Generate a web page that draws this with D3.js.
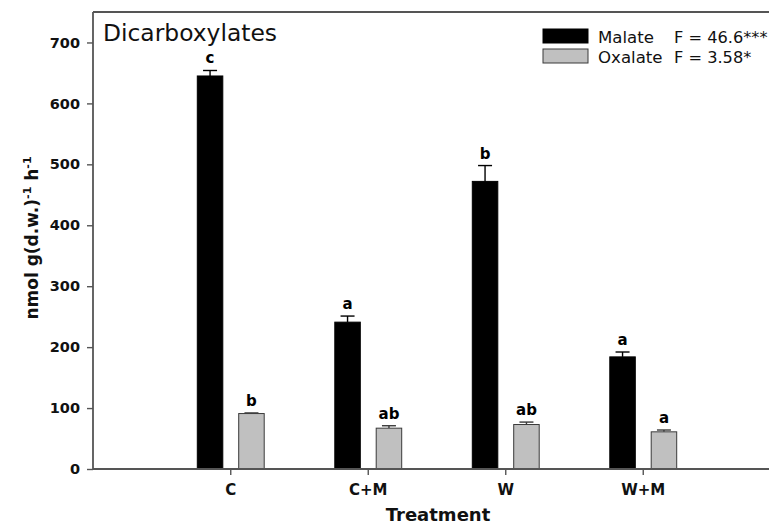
<!DOCTYPE html>
<html>
<head>
<meta charset="utf-8">
<script src="https://cdn.jsdelivr.net/npm/d3@7"></script>
<style>
    body { margin: 0; background: #fff; }
    text { font-family: "DejaVu Sans", sans-serif; }
</style>
</head>
<body>
<svg></svg>
<script>
//data
const treatments = ["C", "C+M", "W", "W+M"];
const malate = [645, 241, 472, 184];
const malateSE = [9, 10, 26, 8];
const malateLetters = ["c", "a", "b", "a"];
const oxalate = [91, 67, 73, 61];
const oxalateSE = [1, 4, 4, 3];
const oxalateLetters = ["b", "ab", "ab", "a"];
const fStats = ["F = 46.6***", "F = 3.58*"];
const yTicks = [0, 100, 200, 300, 400, 500, 600, 700];

//constants
const W = 769, H = 525;
const margin = {top: 12, left: 93};
const barOffset = 20.7;
const barWidth = 25.5;
const axisColor = "#555";

let svg = d3.select("svg")
    .attr("width", W)
    .attr("height", H);

//scales
var xScale = d3.scaleBand()
    .domain(treatments)
    .range([162, 712])
    .paddingInner(0);

var cx = d => xScale(d) + xScale.bandwidth() / 2;

var yScale = d3.scaleLinear()
    .domain([0, 750])
    .range([469, margin.top]);

//series table
let series = [
    {name: "Malate", values: malate, se: malateSE, letters: malateLetters, off: -barOffset, fill: "#000", stroke: "#000"},
    {name: "Oxalate", values: oxalate, se: oxalateSE, letters: oxalateLetters, off: barOffset, fill: "#c0c0c0", stroke: "#3a3a3a"}
];

//bars
series.forEach(function(s) {
    let g = svg.append("g").attr("class", "series");
    let rows = treatments.map((t, i) => ({t: t, v: s.values[i], se: s.se[i], l: s.letters[i]}));

    g.selectAll(".err")
        .data(rows)
        .enter()
        .append("line")
        .attr("x1", d => cx(d.t) + s.off)
        .attr("x2", d => cx(d.t) + s.off)
        .attr("y1", d => yScale(d.v))
        .attr("y2", d => yScale(d.v + d.se))
        .attr("stroke", s.stroke)
        .attr("stroke-width", 1.4);

    g.selectAll(".cap")
        .data(rows)
        .enter()
        .append("line")
        .attr("x1", d => cx(d.t) + s.off - 7)
        .attr("x2", d => cx(d.t) + s.off + 7)
        .attr("y1", d => yScale(d.v + d.se))
        .attr("y2", d => yScale(d.v + d.se))
        .attr("stroke", s.stroke)
        .attr("stroke-width", 1.4);

    g.selectAll(".bar")
        .data(rows)
        .enter()
        .append("rect")
        .attr("x", d => cx(d.t) + s.off - barWidth / 2)
        .attr("y", d => yScale(d.v))
        .attr("width", barWidth)
        .attr("height", d => yScale(0) - yScale(d.v))
        .attr("fill", s.fill)
        .attr("stroke", s.stroke)
        .attr("stroke-width", 1);

    g.selectAll(".letter")
        .data(rows)
        .enter()
        .append("text")
        .attr("x", d => cx(d.t) + s.off)
        .attr("y", d => yScale(d.v + d.se) - 7)
        .attr("text-anchor", "middle")
        .style("font-size", "15px")
        .style("font-weight", "bold")
        .text(d => d.l);
});

//axes
var gY = svg.append("g")
    .attr("transform", "translate(" + margin.left + ",0)")
    .call(d3.axisLeft(yScale)
        .tickValues(yTicks)
        .tickSize(6)
        .tickPadding(7)
        .tickSizeOuter(0));

var gX = svg.append("g")
    .attr("transform", "translate(0," + yScale(0) + ")")
    .call(d3.axisBottom(xScale)
        .tickSize(6)
        .tickPadding(9)
        .tickSizeOuter(0));

[gX, gY].forEach(function(g) {
    g.select(".domain").remove();
    g.selectAll("line").attr("stroke", axisColor).attr("stroke-width", 1.4);
    g.selectAll("text")
        .attr("fill", "#111")
        .style("font-family", "DejaVu Sans")
        .style("font-weight", "bold");
});
gY.selectAll("text").style("font-size", "14.5px");
gX.selectAll("text").style("font-size", "15px");

//frame
svg.append("line")
    .attr("x1", margin.left).attr("x2", W)
    .attr("y1", yScale(0)).attr("y2", yScale(0))
    .attr("stroke", axisColor).attr("stroke-width", 1.8);
svg.append("line")
    .attr("x1", margin.left).attr("x2", margin.left)
    .attr("y1", margin.top).attr("y2", yScale(0))
    .attr("stroke", axisColor).attr("stroke-width", 1.8);
svg.append("line")
    .attr("x1", margin.left).attr("x2", W)
    .attr("y1", margin.top).attr("y2", margin.top)
    .attr("stroke", axisColor).attr("stroke-width", 1.8);

//title
svg.append("text")
    .attr("x", 103)
    .attr("y", 41)
    .style("font-size", "23.4px")
    .attr("fill", "#111")
    .text("Dicarboxylates");

//legend
let legend = svg.append("g")
    .selectAll("g")
    .data(series)
    .enter()
    .append("g")
    .attr("transform", (d, i) => "translate(543," + (29 + i * 20) + ")");

legend.append("rect")
    .attr("width", 45)
    .attr("height", 14)
    .attr("fill", d => d.fill)
    .attr("stroke", d => d.stroke)
    .attr("stroke-width", 1);

legend.append("text")
    .attr("x", 55)
    .attr("y", 14)
    .style("font-size", "16.6px")
    .attr("fill", "#111")
    .text(d => d.name);

legend.append("text")
    .attr("x", 131)
    .attr("y", 14)
    .style("font-size", "16.2px")
    .attr("fill", "#111")
    .text((d, i) => fStats[i]);

//axes labels
svg.append("text")
    .attr("x", 438)
    .attr("y", 521)
    .attr("text-anchor", "middle")
    .style("font-size", "18px")
    .style("font-weight", "bold")
    .attr("fill", "#111")
    .text("Treatment");

let yLab = svg.append("text")
    .attr("transform", "translate(38,238) rotate(-90)")
    .attr("text-anchor", "middle")
    .style("font-size", "17px")
    .style("font-weight", "bold")
    .attr("fill", "#111");
yLab.append("tspan").text("nmol g(d.w.)");
yLab.append("tspan").attr("dy", -7).style("font-size", "11px").text("-1");
yLab.append("tspan").attr("dy", 7).text(" h");
yLab.append("tspan").attr("dy", -7).style("font-size", "11px").text("-1");
</script>
</body>
</html>
